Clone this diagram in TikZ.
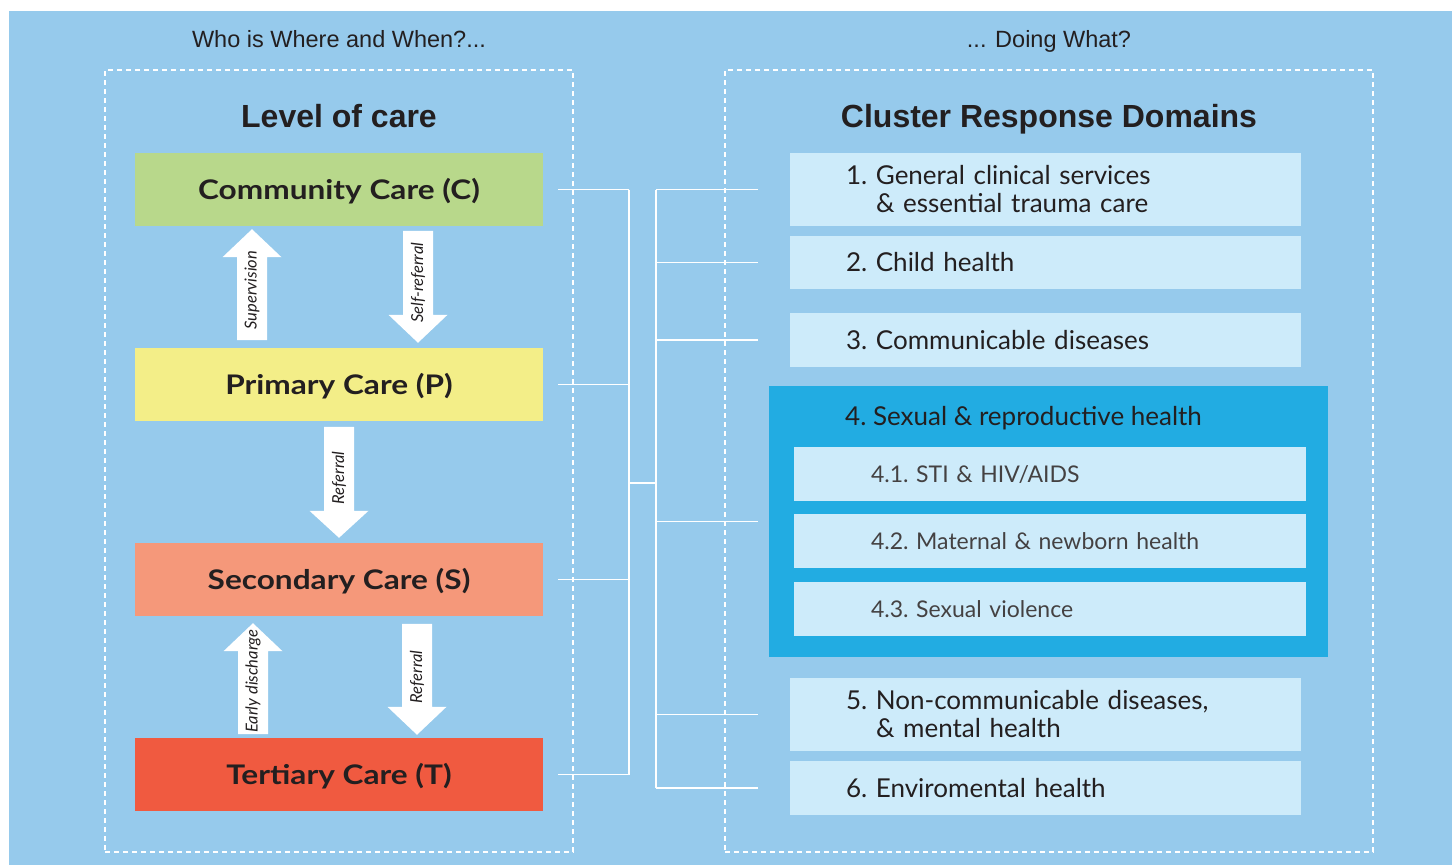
\documentclass[tikz,border=0pt]{standalone}
\usepackage{fontspec}
\setmainfont{Lato}
\setsansfont{Liberation Sans}
\newfontfamily\carefont{Lato}[FakeStretch=1.17]

\definecolor{bgblue}{RGB}{150,202,236}
\definecolor{commgreen}{RGB}{184,216,139}
\definecolor{primyellow}{RGB}{243,238,136}
\definecolor{secsalmon}{RGB}{245,152,122}
\definecolor{terred}{RGB}{240,90,64}
\definecolor{domblue}{RGB}{205,235,250}
\definecolor{srhblue}{RGB}{34,172,226}
\definecolor{ink}{RGB}{35,31,32}

\tikzset{
  zone/.style={draw=white, line width=2pt, dash pattern=on 5pt off 4pt,
    minimum height=782pt, inner sep=0pt},
  hdr/.style={anchor=base, font=\sffamily\fontsize{23.5}{27}\selectfont, text=ink},
  ttl/.style={anchor=base, font=\sffamily\bfseries\fontsize{32}{36}\selectfont, text=ink},
  carebox/.style={minimum width=408pt, minimum height=73pt, inner sep=0pt,
    text height=19pt, text depth=0pt,
    font=\carefont\bfseries\fontsize{27}{30}\selectfont, text=ink},
  dombox/.style={fill=domblue, text width=399pt, inner xsep=56pt, inner ysep=0pt,
    align=left, font=\frenchspacing\fontsize{26}{28}\selectfont, text=ink},
  subbox/.style={fill=domblue, text width=358pt, inner xsep=77pt, inner ysep=0pt,
    minimum height=54pt, align=left, text height=16.5pt, text depth=0pt,
    font=\frenchspacing\fontsize{23}{28}\selectfont, text=ink!85},
  oneline/.style={text height=18.5pt, text depth=0pt},
  flowlbl/.style={rotate=90, inner sep=0pt, font=\itshape\fontsize{16.5}{18}\selectfont, text=ink},
  link/.style={draw=white, line width=1.5pt}
}

\begin{document}
\begin{tikzpicture}[x=1pt,y=-1pt]

\useasboundingbox (0,0) rectangle (1452,865);
\fill[bgblue] (9,11) rectangle (1452,865);

% left column
\node[zone, minimum width=468pt] (whozone) at (339,461) {};
\node[hdr] (whohdr) at (339,47) {Who is Where and When?...};
\node[ttl] (levelttl) at (339,127) {Level of care};

\node[carebox, fill=commgreen] (comm) at (339,189.5) {Community Care (C)};
\node[carebox, fill=primyellow] (prim) at (339,384.5) {Primary Care (P)};
\node[carebox, fill=secsalmon] (sec) at (339,579.5) {Secondary Care (S)};
\node[carebox, fill=terred] (tert) at (339,774.5) {Tertiary Care (T)};

% block arrows between the levels
\coordinate (supvtip) at ([xshift=-87pt,yshift=-3pt]comm.south);
\fill[white] (supvtip) -- ++(29.5,28) -- ++(-14.5,0) -- ++(0,83) -- ++(-30,0) -- ++(0,-83) -- ++(-14.5,0) -- cycle;
\node[flowlbl] (supv) at ([yshift=-61pt]supvtip) {Supervision};

\coordinate (selftip) at ([xshift=79pt,yshift=5pt]prim.north);
\fill[white] (selftip) -- ++(29.5,-28) -- ++(-14.5,0) -- ++(0,-84) -- ++(-30,0) -- ++(0,84) -- ++(-14.5,0) -- cycle;
\node[flowlbl] (selfref) at ([yshift=60pt]selftip) {Self-referral};

\coordinate (refpstip) at ([yshift=5pt]sec.north);
\fill[white] (refpstip) -- ++(29.5,-27) -- ++(-14.5,0) -- ++(0,-84) -- ++(-30,0) -- ++(0,84) -- ++(-14.5,0) -- cycle;
\node[flowlbl] (refps) at ([yshift=60pt]refpstip) {Referral};

\coordinate (earlytip) at ([xshift=-86pt,yshift=-7pt]sec.south);
\fill[white] (earlytip) -- ++(29.5,28) -- ++(-14.5,0) -- ++(0,83) -- ++(-30,0) -- ++(0,-83) -- ++(-14.5,0) -- cycle;
\node[flowlbl] (early) at ([yshift=-58pt]earlytip) {Early discharge};

\coordinate (refsttip) at ([xshift=78pt,yshift=3pt]tert.north);
\fill[white] (refsttip) -- ++(29.5,-28) -- ++(-14.5,0) -- ++(0,-83) -- ++(-30,0) -- ++(0,83) -- ++(-14.5,0) -- cycle;
\node[flowlbl] (refst) at ([yshift=58pt]refsttip) {Referral};

% right column
\node[zone, minimum width=648pt] (whatzone) at (1049,461) {};
\node[hdr] (whathdr) at (1049,47) {... Doing What?};
\node[ttl] (domttl) at (1049,127) {Cluster Response Domains};

\node[dombox, minimum height=73pt] (d1) at (1045.5,189.5) {1. General clinical services\\\hspace*{30pt}\& essential trauma care};
\node[dombox, oneline, minimum height=53pt] (d2) at (1045.5,262.5) {2. Child health};
\node[dombox, oneline, minimum height=54pt] (d3) at (1045.5,340) {3. Communicable diseases};
\node[fill=srhblue, minimum width=559pt, minimum height=271pt] (d4) at (1048.5,521.5) {};
\node[anchor=base west, inner sep=0pt, font=\frenchspacing\fontsize{26}{28}\selectfont, text=ink] (d4ttl) at (845,425) {4. Sexual \& reproductive health};
\node[subbox] (d41) at (1050,474) {4.1. STI \& HIV/AIDS};
\node[subbox] (d42) at (1050,541) {4.2. Maternal \& newborn health};
\node[subbox] (d43) at (1050,609) {4.3. Sexual violence};
\node[dombox, minimum height=73pt] (d5) at (1045.5,714.5) {5. Non-communicable diseases,\\\hspace*{30pt}\& mental health};
\node[dombox, oneline, minimum height=54pt] (d6) at (1045.5,788) {6. Enviromental health};

% bracket between the columns
\coordinate (lbus) at (629,483);
\coordinate (rbus) at (656,483);

\draw[link] ([xshift=15pt]comm.east) -- (comm.east -| lbus);
\draw[link] ([xshift=15pt]prim.east) -- (prim.east -| lbus);
\draw[link] ([xshift=15pt]sec.east) -- (sec.east -| lbus);
\draw[link] ([xshift=15pt]tert.east) -- (tert.east -| lbus);
\draw[link] (comm.east -| lbus) -- (tert.east -| lbus);
\draw[link] (lbus) -- (rbus);
\draw[link] (d1.west -| rbus) -- (d6.west -| rbus);
\draw[link] (d1.west -| rbus) -- ([xshift=-32pt]d1.west);
\draw[link] (d2.west -| rbus) -- ([xshift=-32pt]d2.west);
\draw[link] (d3.west -| rbus) -- ([xshift=-32pt]d3.west);
\draw[link] (d4.west -| rbus) -- ([xshift=-11pt]d4.west);
\draw[link] (d5.west -| rbus) -- ([xshift=-32pt]d5.west);
\draw[link] (d6.west -| rbus) -- ([xshift=-32pt]d6.west);

\end{tikzpicture}
\end{document}
